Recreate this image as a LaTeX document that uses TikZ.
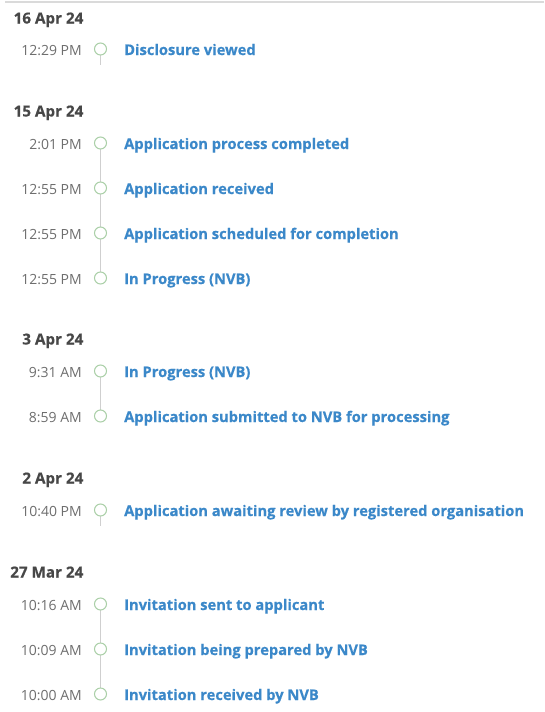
\documentclass[tikz,border=0pt]{standalone}
\usepackage{fontspec}
\setmainfont{Open Sans}[BoldFeatures={FakeBold=0.4}]
\definecolor{datec}{HTML}{474747}
\definecolor{timec}{HTML}{6E6E6E}
\definecolor{labelc}{HTML}{3B88C9}
\definecolor{dotc}{HTML}{A9CFA6}
\definecolor{linec}{HTML}{CFCFCF}
\definecolor{topc}{HTML}{DADADA}
\tikzset{
  datelbl/.style={anchor=base east, inner sep=0pt, text=datec, font=\fontsize{15.2}{17}\selectfont\bfseries},
  timelbl/.style={anchor=base east, inner sep=0pt, text=timec, font=\fontsize{14}{16}\selectfont},
  evlbl/.style={anchor=base west, inner sep=0pt, text=labelc, font=\fontsize{14.7}{17}\selectfont\bfseries},
  dot/.style={circle, draw=dotc, line width=1pt, fill=white, minimum size=12pt, inner sep=0pt},
  conn/.style={draw=linec, line width=1.5pt},
}
\newcommand{\entry}[4]{% name, baseline y, time, label
  \node[timelbl] (t#1) at (82,-#2) {#3};
  \node[dot] (#1) at (100.5,-#2+6) {};
  \node[evlbl] (l#1) at (124,-#2) {#4};
}
\begin{document}
\begin{tikzpicture}[x=1pt,y=1pt]
\useasboundingbox (0,0) rectangle (544,-712);
\fill[white] (0,0) rectangle (544,-712);
\draw[topc, line width=2pt] (5,-2) -- (544,-2);

% 16 Apr 24
\node[datelbl] (d1) at (83.5,-23.5) {16 Apr 24};
\coordinate (s1) at (100.5,-65);
\draw[conn] (100.5,-55) -- (s1);
\entry{a1}{55}{12:29 PM}{Disclosure viewed}

% 15 Apr 24
\node[datelbl] (d2) at (83.5,-116.5) {15 Apr 24};
\path (100.5,-143) coordinate (b1p) (100.5,-278) coordinate (b4p);
\draw[conn] (b1p) -- (b4p);
\entry{b1}{149}{2:01 PM}{Application process completed}
\entry{b2}{194}{12:55 PM}{Application received}
\entry{b3}{239}{12:55 PM}{Application scheduled for completion}
\entry{b4}{284}{12:55 PM}{In Progress (NVB)}

% 3 Apr 24
\node[datelbl] (d3) at (83.5,-344.5) {3 Apr 24};
\path (100.5,-371) coordinate (c1p) (100.5,-416) coordinate (c2p);
\draw[conn] (c1p) -- (c2p);
\entry{c1}{377}{9:31 AM}{In Progress (NVB)}
\entry{c2}{422}{8:59 AM}{Application submitted to NVB for processing}

% 2 Apr 24
\node[datelbl] (d4) at (83.5,-483.5) {2 Apr 24};
\coordinate (s4) at (100.5,-526);
\draw[conn] (100.5,-516) -- (s4);
\entry{e1}{516}{10:40 PM}{Application awaiting review by registered organisation}

% 27 Mar 24
\node[datelbl] (d5) at (83.5,-577.5) {27 Mar 24};
\path (100.5,-604) coordinate (f1p) (100.5,-694) coordinate (f3p);
\draw[conn] (f1p) -- (f3p);
\entry{f1}{610}{10:16 AM}{Invitation sent to applicant}
\entry{f2}{655}{10:09 AM}{Invitation being prepared by NVB}
\entry{f3}{700}{10:00 AM}{Invitation received by NVB}
\end{tikzpicture}
\end{document}
